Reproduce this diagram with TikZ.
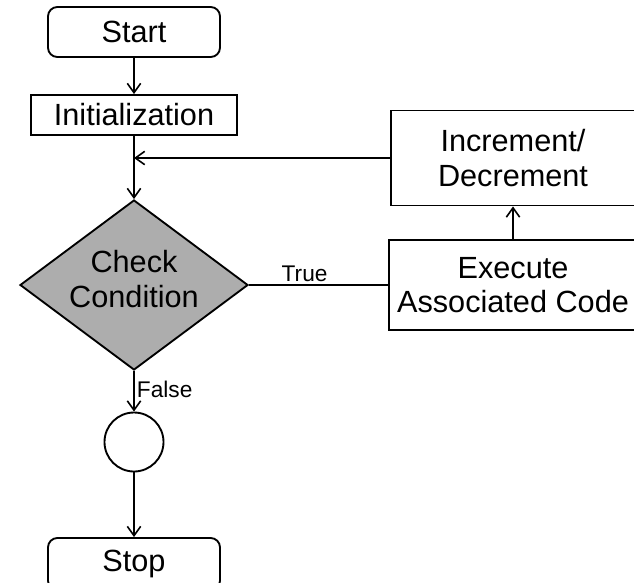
\documentclass[tikz,border=0pt]{standalone}
\usepackage{fontspec}
\setmainfont{Liberation Sans}
\usetikzlibrary{shapes.geometric,arrows.meta}
\begin{document}
\begin{tikzpicture}[x=0.75pt,y=-0.75pt,
  every node/.style={font=\fontsize{23}{26}\selectfont, align=center},
  line/.style={line width=1.4pt},
  arr/.style={line width=1.4pt,-{Straight Barb[length=7pt,width=10pt,line width=1.2pt]}},
  term/.style={draw, line width=1.4pt, rounded corners=7pt, minimum width=129pt, minimum height=37.5pt, inner sep=0pt},
  proc/.style={draw, line width=1.4pt, inner sep=0pt},
  lbl/.style={font=\fontsize{17}{19}\selectfont, inner sep=1.5pt}]
\useasboundingbox (0,0) rectangle (634,582);
\clip (0,0) rectangle (634,582);
\fill[white] (0,0) rectangle (634,582);
% nodes
\node[term] (start) at (134,32) {Start};
\node[proc, minimum width=155pt, minimum height=30pt] (init) at (134,115) {Initialization};
\node[diamond, draw, line width=1.4pt, fill=black!32, minimum width=171pt, minimum height=127.5pt, inner sep=0pt] (cond) at (134,285) {};
\node at (134,279) {Check\\Condition};
\node[proc, minimum width=183pt, minimum height=71.25pt] (inc) at (513,158) {Increment/\\Decrement};
\node[proc, minimum width=186pt, minimum height=67.5pt] (exec) at (513,285) {Execute\\Associated Code};
\node[circle, draw, line width=1.4pt, minimum size=44.25pt, inner sep=0pt] (circ) at (134,442) {};
\node[term, minimum height=39pt] (stop) at (134,564) {Stop};
\coordinate (merge) at (inc.west -| init.south);
% connectors
\draw[arr] (start) -- (init);
\draw[arr] (init) -- (cond);
\draw[arr] (inc.west) -- (merge);
\draw[line] (cond.east) -- node[lbl, pos=0.4, above] {True} (exec.west);
\draw[arr] (exec) -- (inc);
\draw[arr] (cond) -- node[lbl, right, pos=0.45] {False} (circ);
\draw[arr] (circ) -- (stop);
\end{tikzpicture}
\end{document}
